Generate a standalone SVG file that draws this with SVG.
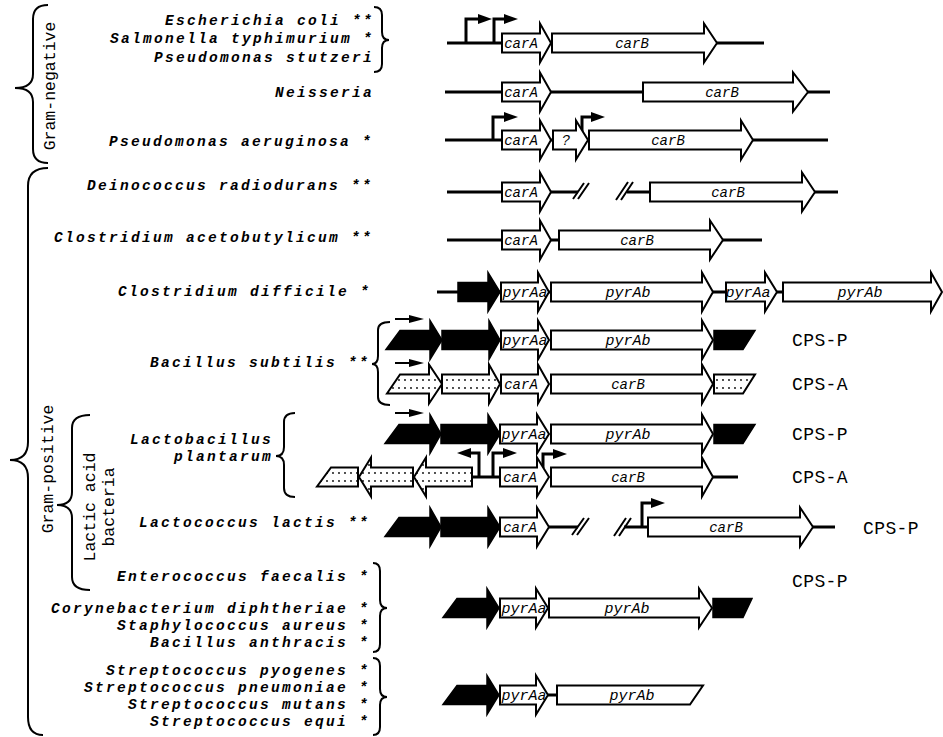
<svg xmlns="http://www.w3.org/2000/svg" width="943" height="737" viewBox="0 0 943 737">
<style>
.sp{font-family:"Liberation Mono","Courier New",monospace;font-weight:bold;font-style:italic;font-size:14.5px;letter-spacing:2.3px;text-anchor:end;fill:#000}
.g{font-family:"Liberation Mono","Courier New",monospace;font-style:italic;font-size:14px;text-anchor:middle;fill:#000}
.gp{font-size:15px}
.cps{font-family:"Liberation Mono","Courier New",monospace;font-size:18px;letter-spacing:0.4px;fill:#000}
.grp{font-family:"Liberation Mono","Courier New",monospace;font-size:16.5px;text-anchor:middle;fill:#000}
.w{fill:#fff;stroke:#000;stroke-width:2}
.b{fill:#000;stroke:#000;stroke-width:1.5}
.da{fill:url(#dotsA);stroke:#000;stroke-width:2}
.db{fill:url(#dotsB);stroke:#000;stroke-width:2}
.bb{stroke:#000;stroke-width:3;fill:none}
.sl{stroke:#000;stroke-width:2;fill:none}
.br{fill:none;stroke:#000;stroke-width:2}
.hd{fill:#000}
</style>
<defs>
<pattern id="dotsA" width="6" height="8" patternUnits="userSpaceOnUse"><rect width="6" height="8" fill="#fff"/><circle cx="3" cy="4" r="0.9" fill="#000"/></pattern>
<pattern id="dotsB" width="6" height="8" patternUnits="userSpaceOnUse"><rect width="6" height="8" fill="#fff"/><circle cx="3" cy="1" r="0.9" fill="#000"/></pattern>
</defs>
<rect width="943" height="737" fill="#fff"/>

<g id="braces">
<path class="br" d="M48,5 Q33,5 33,19 L33,74 Q33,88 15,88 Q33,88 33,102 L33,149 Q33,163 48,163"/>
<path class="br" d="M48,168 Q28,168 28,186 L28,442 Q28,460 10,460 Q28,460 28,478 L28,717 Q28,735 43,735"/>
<path class="br" d="M90,415 Q72,415 72,428 L72,492 Q72,505 57,505 Q72,505 72,518 L72,577 Q72,590 90,590"/>
<path class="br" d="M390,322 Q378,322 378,330 L378,356 Q378,364 372,364 Q378,364 378,372 L378,397 Q378,405 390,405"/>
<path class="br" d="M295,413 Q284,413 284,422 L284,447 Q284,456 276,456 Q284,456 284,465 L284,488 Q284,497 295,497"/>
<path class="br" d="M374,7 Q382,7 382,15 L382,32 Q382,40 389,40 Q382,40 382,48 L382,64 Q382,72 374,72"/>
<path class="br" d="M373,563 Q380,563 380,571 L380,600 Q380,608 387,608 Q380,608 380,616 L380,644 Q380,652 373,652"/>
<path class="br" d="M373,658 Q380,658 380,666 L380,689 Q380,697 387,697 Q380,697 380,705 L380,727 Q380,735 373,735"/>
</g>

<g id="group-labels">
<text class="grp" transform="translate(55,86) rotate(-90)">Gram-negative</text>
<text class="grp" transform="translate(53,469) rotate(-90)">Gram-positive</text>
<text class="grp" transform="translate(95,507) rotate(-90)">Lactic acid</text>
<text class="grp" transform="translate(114,507) rotate(-90)">bacteria</text>
</g>

<g id="species">
<text class="sp" x="374" y="25">Escherichia coli **</text>
<text class="sp" x="374" y="43">Salmonella typhimurium *</text>
<text class="sp" x="374" y="62">Pseudomonas stutzeri</text>
<text class="sp" x="374" y="97">Neisseria</text>
<text class="sp" x="373" y="146">Pseudomonas aeruginosa *</text>
<text class="sp" x="373" y="190">Deinococcus radiodurans **</text>
<text class="sp" x="373" y="242">Clostridium acetobutylicum **</text>
<text class="sp" x="371" y="296">Clostridium difficile *</text>
<text class="sp" x="370" y="367">Bacillus subtilis **</text>
<text class="sp" x="273" y="444">Lactobacillus</text>
<text class="sp" x="273" y="461">plantarum</text>
<text class="sp" x="370" y="527">Lactococcus lactis **</text>
<text class="sp" x="370" y="581">Enterococcus faecalis *</text>
<text class="sp" x="370" y="613">Corynebacterium diphtheriae *</text>
<text class="sp" x="370" y="630">Staphylococcus aureus *</text>
<text class="sp" x="370" y="647">Bacillus anthracis *</text>
<text class="sp" x="370" y="675">Streptococcus pyogenes *</text>
<text class="sp" x="370" y="692">Streptococcus pneumoniae *</text>
<text class="sp" x="370" y="709">Streptococcus mutans *</text>
<text class="sp" x="370" y="726">Streptococcus equi *</text>
</g>

<g id="connectors">
<path class="bb" d="M447,43H764"/>
<path class="bb" d="M445,92H830"/>
<path class="bb" d="M445,140H828"/>
<path class="bb" d="M447,192H578M627,192H838"/>
<path class="bb" d="M447,240H762"/>
<path class="bb" d="M437,292H940"/>
<path class="bb" d="M472,477H500M713,477H738"/>
<path class="bb" d="M549,527H578M624,527H648M813,527H835"/>
<path class="bb" d="M548,695H557"/>
<path class="sl" d="M573,199L584,183M578,199L589,183M616,200L628,182M621,200L633,182"/>
<path class="sl" d="M572,535L584,518M577,535L589,518M614,536L626,518M619,536L631,518"/>
</g>

<g id="promoters">
<path class="bb" d="M466,43V19H481M494,43V19H507"/>
<polygon class="hd" points="478,14 492,19 478,24"/><polygon class="hd" points="504,14 518,19 504,24"/>
<path class="bb" d="M493,140V117H506M582,132V117H593"/>
<polygon class="hd" points="504,112 518,117 504,122"/><polygon class="hd" points="591,112 605,117 591,122"/>
<path class="bb" d="M479,477V453H469M493,477V453H505M543,468V454H555"/>
<polygon class="hd" points="471,448 457,453 471,458"/><polygon class="hd" points="503,448 517,453 503,458"/><polygon class="hd" points="553,449 567,454 553,459"/>
<path class="bb" d="M642,527V503H653"/>
<polygon class="hd" points="651,498 665,503 651,508"/>
<path class="sl" d="M395,319H412M395,363H412M395,413H412"/>
<polygon class="hd" points="409,315 424,319 409,323"/><polygon class="hd" points="409,359 424,363 409,367"/><polygon class="hd" points="409,409 424,413 409,417"/>
</g>

<g id="row-ecoli">
<path class="w" d="M502,33.5H540V23.5L551,43L540,62.5V52.5H502Z"/>
<path class="w" d="M552,33.5H704V23.5L717,43L704,62.5V52.5H552Z"/>
<text class="g" x="521" y="48">carA</text><text class="g" x="632" y="48">carB</text>
</g>

<g id="row-neisseria">
<path class="w" d="M502,82.5H540V72.5L551,92L540,111.5V101.5H502Z"/>
<path class="w" d="M643,82.5H793V72.5L808,92L793,111.5V101.5H643Z"/>
<text class="g" x="521" y="97">carA</text><text class="g" x="722" y="97">carB</text>
</g>

<g id="row-paeruginosa">
<path class="w" d="M502,130.5H540V120.5L551,140L540,159.5V149.5H502Z"/>
<path class="w" d="M553,130.5H576V120.5L588,140L576,159.5V149.5H553Z"/>
<path class="w" d="M589,130.5H741V120.5L753,140L741,159.5V149.5H589Z"/>
<text class="g" x="521" y="145">carA</text><text class="g" x="566" y="145">?</text><text class="g" x="668" y="145">carB</text>
</g>

<g id="row-deinococcus">
<path class="w" d="M502,182.5H540V172.5L551,192L540,211.5V201.5H502Z"/>
<path class="w" d="M650,182.5H802V172.5L815,192L802,211.5V201.5H650Z"/>
<text class="g" x="521" y="197">carA</text><text class="g" x="728" y="197">carB</text>
</g>

<g id="row-cacetobutylicum">
<path class="w" d="M502,230.5H540V220.5L551,240L540,259.5V249.5H502Z"/>
<path class="w" d="M559,230.5H710V220.5L723,240L710,259.5V249.5H559Z"/>
<text class="g" x="521" y="245">carA</text><text class="g" x="637" y="245">carB</text>
</g>

<g id="row-cdifficile">
<path class="b" d="M458,282.5H488V272.5L500,292L488,311.5V301.5H458Z"/>
<path class="w" d="M501,282.5H538V272.5L549,292L538,311.5V301.5H501Z"/>
<path class="w" d="M551,282.5H702V272.5L713,292L702,311.5V301.5H551Z"/>
<path class="w" d="M726,282.5H765V272.5L777,292L765,311.5V301.5H726Z"/>
<path class="w" d="M783,282.5H931V272.5L942,292L931,311.5V301.5H783Z"/>
<text class="g gp" x="525" y="297">pyrAa</text><text class="g gp" x="628" y="297">pyrAb</text>
<text class="g gp" x="748" y="297">pyrAa</text><text class="g gp" x="860" y="297">pyrAb</text>
</g>

<g id="row-bsubtilis-p">
<path class="b" d="M386,349.5L400,330.5H430V320.5L442,340L430,359.5V349.5Z"/>
<path class="b" d="M442,330.5H489V320.5L500,340L489,359.5V349.5H442Z"/>
<path class="w" d="M501,330.5H538V320.5L549,340L538,359.5V349.5H501Z"/>
<path class="w" d="M551,330.5H702V320.5L713,340L702,359.5V349.5H551Z"/>
<polygon class="b" points="714,330.5 755,330.5 743,349.5 714,349.5"/>
<text class="g gp" x="525" y="345">pyrAa</text><text class="g gp" x="628" y="345">pyrAb</text>
<text class="cps" x="792" y="346">CPS-P</text>
</g>

<g id="row-bsubtilis-a">
<path class="da" d="M387,393.5L400,374.5H429V364.5L442,384L429,403.5V393.5Z"/>
<path class="da" d="M442,374.5H489V364.5L500,384L489,403.5V393.5H442Z"/>
<path class="w" d="M501,374.5H538V364.5L549,384L538,403.5V393.5H501Z"/>
<path class="w" d="M551,374.5H702V364.5L713,384L702,403.5V393.5H551Z"/>
<polygon class="da" points="714,374.5 755,374.5 743,393.5 714,393.5"/>
<text class="g" x="521" y="389">carA</text><text class="g" x="628" y="389">carB</text>
<text class="cps" x="792" y="390">CPS-A</text>
</g>

<g id="row-lplantarum-p">
<path class="b" d="M385,443.5L399,424.5H430V414.5L441,434L430,453.5V443.5Z"/>
<path class="b" d="M441,424.5H488V414.5L500,434L488,453.5V443.5H441Z"/>
<path class="w" d="M500,424.5H537V414.5L549,434L537,453.5V443.5H500Z"/>
<path class="w" d="M551,424.5H702V414.5L713,434L702,453.5V443.5H551Z"/>
<polygon class="b" points="714,424.5 755,424.5 743,443.5 714,443.5"/>
<text class="g gp" x="524" y="439">pyrAa</text><text class="g gp" x="628" y="439">pyrAb</text>
<text class="cps" x="792" y="440">CPS-P</text>
</g>

<g id="row-lplantarum-a">
<polygon class="db" points="317,486.5 331,467.5 358,467.5 358,486.5"/>
<path class="db" d="M413,467.5H371V457.5L359,477L371,496.5V486.5H413Z"/>
<path class="db" d="M472,467.5H426V457.5L414,477L426,496.5V486.5H472Z"/>
<path class="w" d="M500,467.5H537V457.5L549,477L537,496.5V486.5H500Z"/>
<path class="w" d="M551,467.5H702V457.5L713,477L702,496.5V486.5H551Z"/>
<text class="g" x="520" y="482">carA</text><text class="g" x="628" y="482">carB</text>
<text class="cps" x="792" y="483">CPS-A</text>
</g>

<g id="row-llactis">
<path class="b" d="M385,536.5L399,517.5H430V507.5L441,527L430,546.5V536.5Z"/>
<path class="b" d="M441,517.5H488V507.5L500,527L488,546.5V536.5H441Z"/>
<path class="w" d="M500,517.5H537V507.5L549,527L537,546.5V536.5H500Z"/>
<path class="w" d="M648,517.5H800V507.5L813,527L800,546.5V536.5H648Z"/>
<text class="g" x="520" y="532">carA</text><text class="g" x="726" y="532">carB</text>
<text class="cps" x="863" y="534">CPS-P</text>
</g>

<g id="row-efaecalis">
<text class="cps" x="792" y="587">CPS-P</text>
</g>

<g id="row-corynebacterium">
<path class="b" d="M443,617.5L457,598.5H487V588.5L499,608L487,627.5V617.5Z"/>
<path class="w" d="M500,598.5H536V588.5L548,608L536,627.5V617.5H500Z"/>
<path class="w" d="M549,598.5H699V588.5L712,608L699,627.5V617.5H549Z"/>
<polygon class="b" points="713,598.5 752,598.5 743,617.5 713,617.5"/>
<text class="g gp" x="524" y="613">pyrAa</text><text class="g gp" x="627" y="613">pyrAb</text>
</g>

<g id="row-streptococcus">
<path class="b" d="M443,704.5L457,685.5H487V675.5L499,695L487,714.5V704.5Z"/>
<path class="w" d="M500,685.5H536V675.5L548,695L536,714.5V704.5H500Z"/>
<polygon class="w" points="557,685.5 703,685.5 690,704.5 557,704.5"/>
<text class="g gp" x="524" y="700">pyrAa</text><text class="g gp" x="632" y="700">pyrAb</text>
</g>
</svg>
